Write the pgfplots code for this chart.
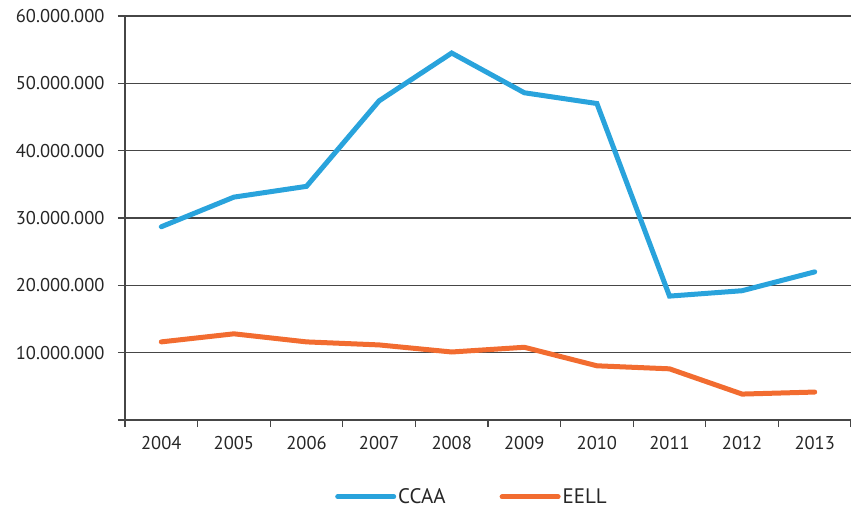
\documentclass[border=0pt]{standalone}
\usepackage{pgfplots}
\pgfplotsset{compat=1.18}
\usepackage{fontspec}
\setmainfont{PT Sans}
\definecolor{ccaa}{RGB}{41,163,220}
\definecolor{eell}{RGB}{242,108,48}
\definecolor{gridc}{RGB}{70,70,70}
\begin{document}
\begin{tikzpicture}
\path[use as bounding box] (-125bp,-88bp) rectangle (726bp,420bp);
\begin{axis}[
  at={(0,0)}, anchor=south west,
  scale only axis, width=726bp, height=404bp,
  xmin=-0.5, xmax=9.5, ymin=0, ymax=60000000,
  scaled y ticks=false,
  axis lines*=left,
  axis line style={gridc, line width=1.2bp},
  xtick={0,...,9},
  xticklabels={2004,2005,2006,2007,2008,2009,2010,2011,2012,2013},
  major x tick style={draw=none},
  minor xtick={-0.5,0.5,...,9.5},
  minor tick length=7bp,
  minor x tick style={gridc, line width=1.2bp},
  ytick={0,10000000,20000000,30000000,40000000,50000000,60000000},
  yticklabels={,10.000.000,20.000.000,30.000.000,40.000.000,50.000.000,60.000.000},
  major tick length=7bp,
  tick align=outside,
  tick pos=left,
  y tick style={gridc, line width=1.2bp},
  ymajorgrids,
  major grid style={gridc, line width=1.2bp},
  tick label style={font=\fontsize{18.5bp}{20bp}\selectfont, text=black!85},
  yticklabel style={xshift=-10bp},
  xticklabel style={yshift=-6bp},
  /pgf/number format/assume math mode=true,
  legend style={at={(0.478,-0.19)}, anchor=center, draw=none, fill=none,
    font=\fontsize{21bp}{22bp}\selectfont, text=black!85,
    inner sep=1bp,
    /tikz/every even column/.append style={column sep=52bp}},
  legend columns=2,
  legend image code/.code={\draw[#1, line cap=round] (0bp,0bp) -- (56bp,0bp);},
]
\addplot[ccaa, line width=5bp, line cap=round] coordinates {
 (0,28700000) (1,33100000) (2,34700000) (3,47400000) (4,54500000)
 (5,48600000) (6,47000000) (7,18400000) (8,19200000) (9,22000000)};
\addlegendentry{CCAA}
\addplot[eell, line width=5bp, line cap=round] coordinates {
 (0,11600000) (1,12800000) (2,11600000) (3,11150000) (4,10100000)
 (5,10800000) (6,8050000) (7,7600000) (8,3850000) (9,4150000)};
\addlegendentry{EELL}
\end{axis}
\end{tikzpicture}
\end{document}
